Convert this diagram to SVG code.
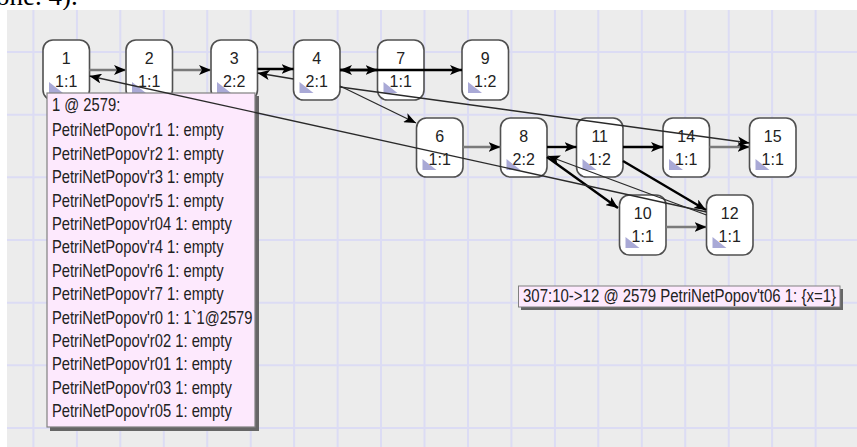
<svg xmlns="http://www.w3.org/2000/svg" width="857" height="447" viewBox="0 0 857 447">
<style>
.grid line{stroke:#dcdcf4;stroke-width:2}
.node rect{fill:#fff;stroke:#505050;stroke-width:1.6}
.node path{fill:#a9a9d6}
.node text{font-family:"Liberation Sans",Arial,sans-serif;font-size:16px;fill:#222;text-anchor:middle}
.e{fill:none}
.gray{stroke:#7a7a7a;stroke-width:2.6;marker-end:url(#ah)}
.thick{stroke:#000;stroke-width:2.4;marker-end:url(#ah)}
.thin{stroke:#2a2a2a;stroke-width:1.3;marker-end:url(#ah)}
.tip text{font-family:"Liberation Sans",Arial,sans-serif;font-size:18px;fill:#222}
</style>
<defs>
<marker id="ah" markerUnits="userSpaceOnUse" viewBox="0 0 12 10" markerWidth="12" markerHeight="10" refX="12" refY="5" orient="auto-start-reverse">
<path d="M0,0 L12,5 L0,10 L3,5 z" fill="#000"/>
</marker>
</defs>
<rect x="0" y="0" width="857" height="447" fill="#fff"/>
<text x="-4" y="5" font-family="'Liberation Serif',serif" font-size="27" fill="#000">one. 4).</text>
<rect x="7" y="10" width="850" height="437" fill="#ececec"/>
<g class="grid">
<line x1="33.4" y1="10" x2="33.4" y2="447"/><line x1="76.9" y1="10" x2="76.9" y2="447"/><line x1="120.3" y1="10" x2="120.3" y2="447"/><line x1="163.8" y1="10" x2="163.8" y2="447"/><line x1="207.2" y1="10" x2="207.2" y2="447"/><line x1="250.7" y1="10" x2="250.7" y2="447"/><line x1="294.1" y1="10" x2="294.1" y2="447"/><line x1="337.6" y1="10" x2="337.6" y2="447"/><line x1="381" y1="10" x2="381" y2="447"/><line x1="424.5" y1="10" x2="424.5" y2="447"/><line x1="468" y1="10" x2="468" y2="447"/><line x1="511.4" y1="10" x2="511.4" y2="447"/><line x1="554.9" y1="10" x2="554.9" y2="447"/><line x1="598.3" y1="10" x2="598.3" y2="447"/><line x1="641.8" y1="10" x2="641.8" y2="447"/><line x1="685.2" y1="10" x2="685.2" y2="447"/><line x1="728.7" y1="10" x2="728.7" y2="447"/><line x1="772.1" y1="10" x2="772.1" y2="447"/><line x1="815.6" y1="10" x2="815.6" y2="447"/>
<line x1="7" y1="52" x2="857" y2="52"/><line x1="7" y1="114.7" x2="857" y2="114.7"/><line x1="7" y1="177.3" x2="857" y2="177.3"/><line x1="7" y1="240" x2="857" y2="240"/><line x1="7" y1="302.7" x2="857" y2="302.7"/><line x1="7" y1="365.3" x2="857" y2="365.3"/><line x1="7" y1="428" x2="857" y2="428"/>
</g>
<g id="n1" class="node"><rect x="43" y="40" width="46.5" height="60" rx="10"/><path d="M49,82 L49,93 L63,93 z"/><text x="66.2" y="64">1</text><text x="66.2" y="87">1:1</text></g>
<g id="n2" class="node"><rect x="126" y="40" width="46.5" height="60" rx="10"/><path d="M132,82 L132,93 L146,93 z"/><text x="149.2" y="64">2</text><text x="149.2" y="87">1:1</text></g>
<g id="n3" class="node"><rect x="211" y="40" width="46.5" height="60" rx="10"/><path d="M217,82 L217,93 L231,93 z"/><text x="234.2" y="64">3</text><text x="234.2" y="87">2:2</text></g>
<g id="n4" class="node"><rect x="293.5" y="40" width="46.5" height="60" rx="10"/><path d="M299.5,82 L299.5,93 L313.5,93 z"/><text x="316.7" y="64">4</text><text x="316.7" y="87">2:1</text></g>
<g id="n7" class="node"><rect x="377.5" y="40" width="46.5" height="60" rx="10"/><path d="M383.5,82 L383.5,93 L397.5,93 z"/><text x="400.7" y="64">7</text><text x="400.7" y="87">1:1</text></g>
<g id="n9" class="node"><rect x="462" y="40" width="46.5" height="60" rx="10"/><path d="M468,82 L468,93 L482,93 z"/><text x="485.2" y="64">9</text><text x="485.2" y="87">1:2</text></g>
<g id="n6" class="node"><rect x="416.5" y="118" width="46.5" height="59" rx="10"/><path d="M422.5,159 L422.5,170 L436.5,170 z"/><text x="439.7" y="142">6</text><text x="439.7" y="165">1:1</text></g>
<g id="n8" class="node"><rect x="500.5" y="118" width="46.5" height="59" rx="10"/><path d="M506.5,159 L506.5,170 L520.5,170 z"/><text x="523.7" y="142">8</text><text x="523.7" y="165">2:2</text></g>
<g id="n11" class="node"><rect x="576.5" y="118" width="46.5" height="59" rx="10"/><path d="M582.5,159 L582.5,170 L596.5,170 z"/><text x="599.7" y="142">11</text><text x="599.7" y="165">1:2</text></g>
<g id="n14" class="node"><rect x="663" y="118" width="46.5" height="59" rx="10"/><path d="M669,159 L669,170 L683,170 z"/><text x="686.2" y="142">14</text><text x="686.2" y="165">1:1</text></g>
<g id="n15" class="node"><rect x="749.5" y="118" width="46.5" height="59" rx="10"/><path d="M755.5,159 L755.5,170 L769.5,170 z"/><text x="772.7" y="142">15</text><text x="772.7" y="165">1:1</text></g>
<g id="n10" class="node"><rect x="619.5" y="195" width="46.5" height="60" rx="10"/><path d="M625.5,237 L625.5,248 L639.5,248 z"/><text x="642.7" y="219">10</text><text x="642.7" y="242">1:1</text></g>
<g id="n12" class="node"><rect x="706.5" y="195" width="46.5" height="60" rx="10"/><path d="M712.5,237 L712.5,248 L726.5,248 z"/><text x="729.7" y="219">12</text><text x="729.7" y="242">1:1</text></g>
<g id="tooltip" class="tip">
<rect x="50" y="96" width="209" height="335" fill="#666"/>
<rect x="47" y="93" width="208" height="334" fill="#fde9fd" stroke="#808080" stroke-width="1.2"/>
<g transform="translate(52 0) scale(0.82 1)">
<text x="0" y="111">1 @ 2579:</text>
<text x="0" y="136.5">PetriNetPopov'r1 1: empty</text>
<text x="0" y="159.9">PetriNetPopov'r2 1: empty</text>
<text x="0" y="183.3">PetriNetPopov'r3 1: empty</text>
<text x="0" y="206.7">PetriNetPopov'r5 1: empty</text>
<text x="0" y="230.1">PetriNetPopov'r04 1: empty</text>
<text x="0" y="253.5">PetriNetPopov'r4 1: empty</text>
<text x="0" y="276.9">PetriNetPopov'r6 1: empty</text>
<text x="0" y="300.3">PetriNetPopov'r7 1: empty</text>
<text x="0" y="323.7">PetriNetPopov'r0 1: 1`1@2579</text>
<text x="0" y="347.1">PetriNetPopov'r02 1: empty</text>
<text x="0" y="370.5">PetriNetPopov'r01 1: empty</text>
<text x="0" y="393.9">PetriNetPopov'r03 1: empty</text>
<text x="0" y="417.3">PetriNetPopov'r05 1: empty</text>
</g>
</g>
<g id="connectors">
<path class="e gray" d="M89.5,70 L126,70"/>
<path class="e gray" d="M172.5,70 L211,70"/>
<path class="e thick" d="M257.5,69 L293.5,69"/>
<path class="e thin" d="M293.5,79 L257.5,73"/>
<path class="e thick" d="M340,70 L462,70"/>
<path class="e thick" d="M340,70 L377.5,70" style="marker-start:url(#ah)"/>
<path class="e thin" d="M340,86 L416,123"/>
<path class="e thin" d="M340,87 L749.5,143"/>
<path class="e gray" d="M463,147 L500.5,147"/>
<path class="e thick" d="M547,147 L576.5,147"/>
<path class="e thick" d="M623,147 L663,147"/>
<path class="e gray" d="M709.5,147 L749.5,147"/>
<path class="e thick" d="M623,161 L706,210"/>
<path class="e thick" d="M547,157 L618,208"/>
<path class="e thin" d="M706.5,215 L548,156"/>
<path class="e thin" d="M706.5,212 L89.5,76"/>
<path class="e gray" d="M666,227 L706.5,227"/>
</g>
<g id="label" class="tip">
<rect x="521" y="289" width="322" height="21" fill="#666"/>
<rect x="518.5" y="286" width="321.5" height="21" fill="#fde9fd" stroke="#808080" stroke-width="1"/>
<text x="523" y="302" font-size="17.5" textLength="313" lengthAdjust="spacingAndGlyphs">307:10-&gt;12 @ 2579 PetriNetPopov't06 1: {x=1}</text>
</g>
</svg>
